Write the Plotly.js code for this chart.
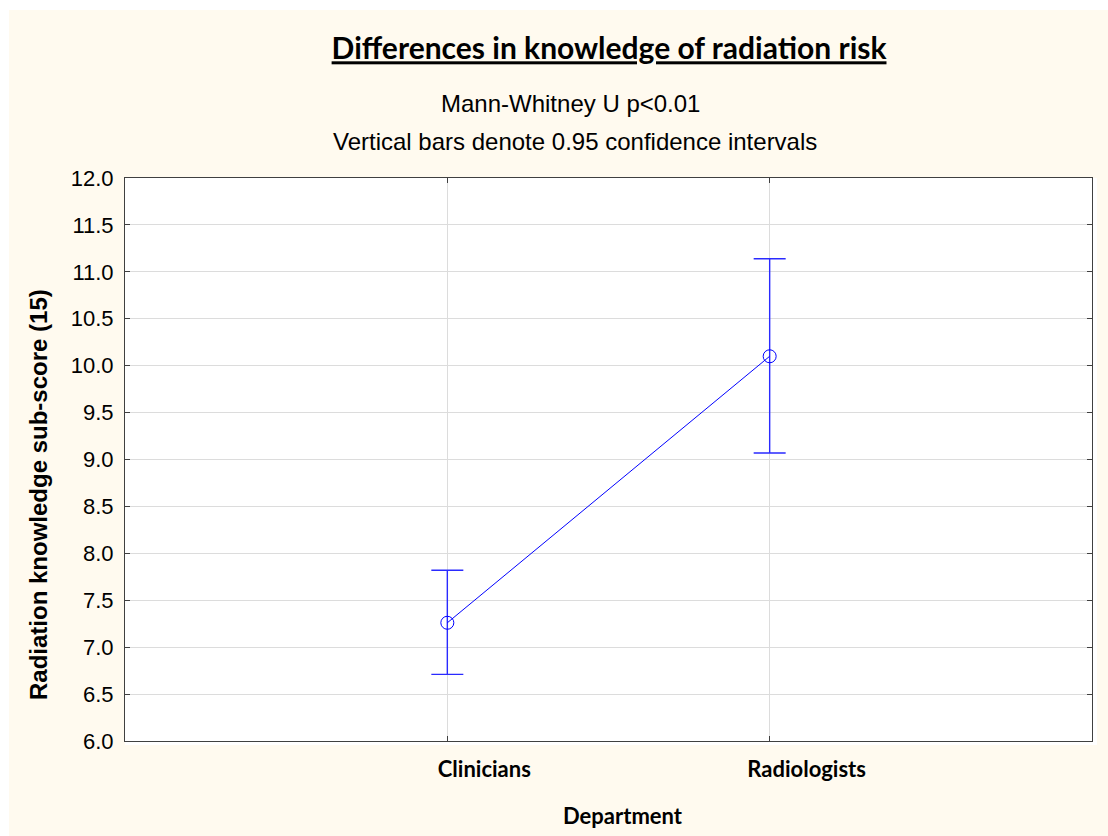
<!DOCTYPE html>
<html>
<head>
<meta charset="utf-8">
<script src="https://cdn.plot.ly/plotly-3.0.1.min.js"></script>
<style>
  html, body { margin: 0; padding: 0; background: #ffffff; width: 1108px; height: 836px; overflow: hidden; }
  #chart { position: absolute; left: 9px; top: 10px; width: 1099px; height: 826px; }
</style>
</head>
<body>
<div id="chart"></div>
<script>
// Data
var departments = ['Clinicians', 'Radiologists'];
var meanScore = [7.26, 10.10];
var upperCI = [7.82, 11.14];
var lowerCI = [6.71, 9.07];
var yTicks = [6.0, 6.5, 7.0, 7.5, 8.0, 8.5, 9.0, 9.5, 10.0, 10.5, 11.0, 11.5, 12.0];

var errPlus = meanScore.map(function (m, i) { return upperCI[i] - m; });
var errMinus = meanScore.map(function (m, i) { return m - lowerCI[i]; });

var trace = {
  type: 'scatter',
  mode: 'lines+markers',
  x: departments,
  y: meanScore,
  line: { color: '#0000ff', width: 1 },
  marker: { symbol: 'circle-open', size: 13, color: '#0000ff', line: { width: 1, color: '#0000ff' } },
  error_y: {
    type: 'data', symmetric: false,
    array: errPlus, arrayminus: errMinus,
    color: '#2a2aff', thickness: 1.4, width: 16
  },
  showlegend: false,
  hoverinfo: 'skip'
};

var W = 967, H = 563;
var layout = {
  width: 1099, height: 826,
  paper_bgcolor: '#fffaef',
  plot_bgcolor: '#ffffff',
  margin: { l: 116, r: 16, t: 168, b: 95 },
  title: {
    text: '<u>Differences in knowledge of radiation risk</u>',
    font: { family: 'Lato, "Open Sans", sans-serif', size: 30, color: '#000000', weight: 'bold' },
    xref: 'container', yref: 'container',
    x: 0.546, xanchor: 'center', y: 0.953, yanchor: 'middle'
  },
  xaxis: {
    type: 'category',
    range: [-1, 2],
    showgrid: true, gridcolor: '#dcdcdc', gridwidth: 1,
    showline: true, linecolor: '#404040', linewidth: 1, mirror: 'allticks',
    ticks: 'inside', ticklen: 5, tickcolor: '#404040',
    tickfont: { family: 'Lato, "Open Sans", sans-serif', size: 22, color: '#000000', weight: 'bold' },
    ticklabelshift: 37,
    ticklabelstandoff: 9,
    zeroline: false,
    fixedrange: true
  },
  yaxis: {
    range: [6, 12],
    tickvals: yTicks,
    ticktext: yTicks.map(function (v) { return v.toFixed(1); }),
    showgrid: true, gridcolor: '#dcdcdc', gridwidth: 1,
    showline: true, linecolor: '#404040', linewidth: 1, mirror: 'allticks',
    ticks: 'inside', ticklen: 5, tickcolor: '#404040',
    tickfont: { family: '"Liberation Sans", Arial, sans-serif', size: 22, color: '#000000' },
    ticklabelstandoff: 6,
    zeroline: false,
    fixedrange: true
  },
  shapes: [
    { type: 'rect', xref: 'paper', yref: 'paper', layer: 'below',
      x0: 0, x1: 1 + 5 / W, y0: -4 / H, y1: 1,
      fillcolor: '#ffffff', line: { width: 0 } }
  ],
  annotations: [
    { text: 'Mann-Whitney U p&lt;0.01', xref: 'paper', yref: 'paper',
      x: (570 - 125) / W, y: (741 - 104) / H, xanchor: 'center', yanchor: 'middle', showarrow: false,
      font: { family: '"Liberation Sans", Arial, sans-serif', size: 24, color: '#000000' } },
    { text: 'Vertical bars denote 0.95 confidence intervals', xref: 'paper', yref: 'paper',
      x: (575 - 125) / W, y: (741 - 141) / H, xanchor: 'center', yanchor: 'middle', showarrow: false,
      font: { family: '"Liberation Sans", Arial, sans-serif', size: 24, color: '#000000' } },
    { text: 'Radiation knowledge sub-score (15)', xref: 'paper', yref: 'paper',
      x: (38 - 125) / W, y: (741 - 495) / H, xanchor: 'center', yanchor: 'middle', textangle: -90, showarrow: false,
      font: { family: '"Liberation Sans", Arial, sans-serif', size: 24, color: '#000000', weight: 'bold' } },
    { text: 'Department', xref: 'paper', yref: 'paper',
      x: (623 - 125) / W, y: (741 - 815) / H, xanchor: 'center', yanchor: 'middle', showarrow: false,
      font: { family: 'Lato, "Open Sans", sans-serif', size: 22, color: '#000000', weight: 'bold' } }
  ]
};

Plotly.newPlot('chart', [trace], layout, { displayModeBar: false, staticPlot: true });
</script>
</body>
</html>
